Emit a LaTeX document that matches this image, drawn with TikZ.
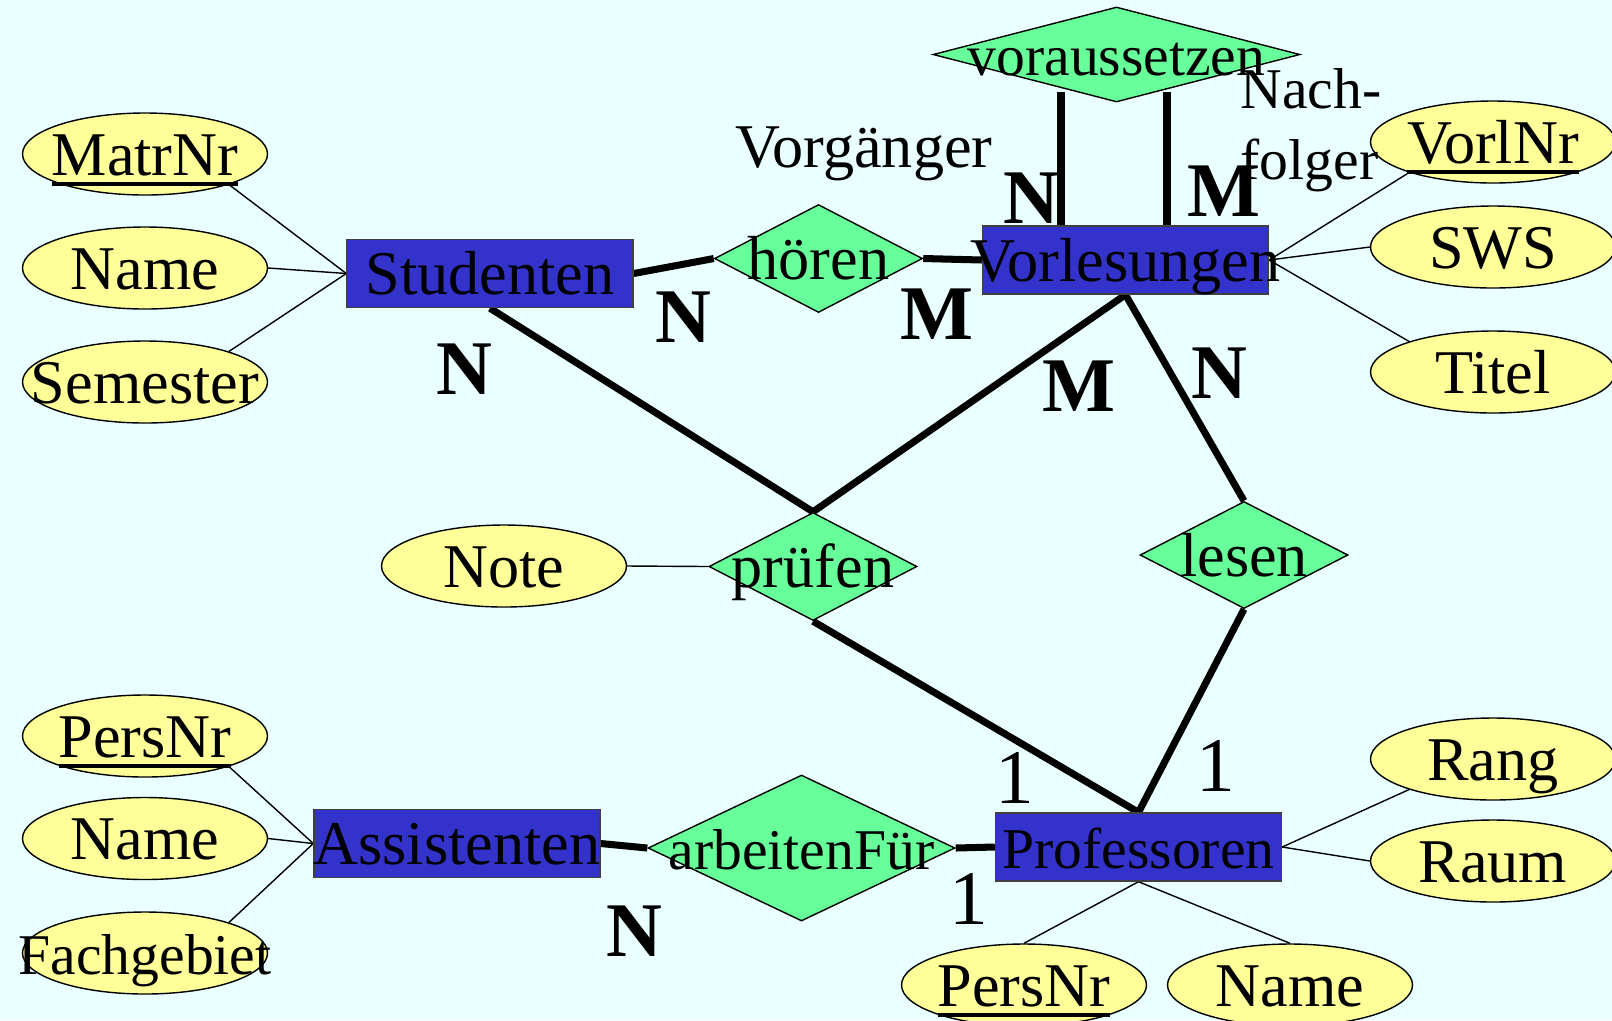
\documentclass[tikz,border=0pt]{standalone}
\usepackage{fontspec}
\setmainfont{Liberation Serif}
\usepackage{tikz}
\usetikzlibrary{shapes.geometric}

\definecolor{bgcyan}{RGB}{234,255,255}
\definecolor{entblue}{RGB}{51,51,204}
\definecolor{relgreen}{RGB}{102,255,153}
\definecolor{attyellow}{RGB}{255,255,153}

\pgfdeclarelayer{lines}
\pgfsetlayers{lines,main}

% underlined key attribute
\newcommand{\keyattr}[1]{\setbox0\hbox{#1}\rlap{\rule[-3pt]{\wd0}{1pt}}\box0}

\begin{document}
\begin{tikzpicture}[x=0.1mm, y=-0.1mm,
  bigfont/.style={font=\fontsize{17.7pt}{21pt}\selectfont},
  smallfont/.style={font=\fontsize{16.4pt}{20pt}\selectfont},
  overflow/.style={inner sep=0pt, text height=12pt, text depth=0pt,
    execute at begin node={\hbox to 0pt\bgroup\hss},
    execute at end node={\hss\egroup}},
  entity/.style={overflow, bigfont, rectangle, draw=black!75, fill=entblue,
    minimum width=28.6mm, minimum height=6.8mm},
  relation/.style={overflow, bigfont, diamond, draw=black, fill=relgreen,
    minimum width=20.8mm, minimum height=10.8mm},
  attribute/.style={overflow, bigfont, ellipse, draw=black, fill=attyellow,
    minimum width=24.5mm, minimum height=8.2mm},
  card/.style={inner sep=0pt, text height=15pt, text depth=0pt,
    font=\fontsize{22pt}{24pt}\selectfont\bfseries},
  one/.style={card, font=\fontsize{22pt}{24pt}\selectfont},
  role/.style={inner sep=0pt, text height=12pt, text depth=0pt, bigfont},
  conn/.style={line width=2pt},
  attr/.style={line width=0.4pt},
  ]
  \begin{pgfonlayer}{lines}
    \fill[bgcyan] (0,0) rectangle (1612,1020);
  \end{pgfonlayer}
  \useasboundingbox (0,0) rectangle (1612,1020);

  %entities
  \node at (490, 273.5) [entity] (studenten) {Studenten};
  \node at (1125.5, 260) [entity] (vorlesungen) {Vorlesungen};
  \node at (457, 843.5) [entity] (assistenten) {Assistenten};
  \node at (1138.5, 847) [entity, smallfont] (professoren) {Professoren};

  %relationships
  \node at (818.5, 258.5) [relation] (hoeren) {hören};
  \node at (1116.5, 54.5) [relation, smallfont, minimum width=36.7mm, minimum height=9.5mm] (voraussetzen) {voraussetzen};
  \node at (813, 566.5) [relation] (pruefen) {prüfen};
  \node at (1244, 555) [relation, minimum height=10.7mm] (lesen) {lesen};
  \node at (801.5, 848) [relation, smallfont, minimum width=30.7mm, minimum height=14.6mm] (arbeitenfuer) {arbeitenFür};

  %attributes
  \node at (145, 154) [attribute] (matrnr) {\keyattr{MatrNr}};
  \node at (145, 268) [attribute] (sname) {Name};
  \node at (145, 382) [attribute] (semester) {Semester};
  \node at (1493, 142) [attribute] (vorlnr) {\keyattr{VorlNr}};
  \node at (1493, 247) [attribute] (sws) {SWS};
  \node at (1493, 372) [attribute] (titel) {Titel};
  \node at (504, 566) [attribute] (note) {Note};
  \node at (145, 736) [attribute] (apersnr) {\keyattr{PersNr}};
  \node at (145, 838.5) [attribute] (aname) {Name};
  \node at (145, 953) [attribute, smallfont] (fachgebiet) {Fachgebiet};
  \node at (1493, 759) [attribute] (rang) {Rang};
  \node at (1493, 861) [attribute] (raum) {Raum};
  \node at (1024, 985) [attribute] (ppersnr) {\keyattr{PersNr}};
  \node at (1290, 985) [attribute] (pname) {Name};

  %roles
  \node at (864, 146) [role] (vorgaenger) {Vorgänger};
  \node at (1240, 68) [anchor=north west, inner sep=0pt, align=left, smallfont] (nachfolger) {Nach-\\folger};

  %cardinalities
  \node at (683.6, 316.6) [card] (n1) {N};
  \node at (936.5, 313.5) [card] (m1) {M};
  \node at (1031, 197.5) [card] (n2) {N};
  \node at (1224, 190) [card] (m2) {M};
  \node at (464.7, 368) [card] (n3) {N};
  \node at (1079, 385.5) [card] (m3) {M};
  \node at (1219, 372) [card] (n4) {N};
  \node at (1015, 777.5) [one] (e1) {1};
  \node at (1216, 765.5) [one] (e2) {1};
  \node at (969, 898.5) [one] (e3) {1};
  \node at (634, 930) [card] (n5) {N};

  \coordinate (vorg) at (1061, 92);
  \coordinate (nachf) at (1167, 92);

  %connections
  \begin{pgfonlayer}{lines}
    \draw[conn] (studenten.east) -- (hoeren.west);
    \draw[conn] (hoeren.east) -- (vorlesungen.west);
    \draw[conn] (vorg) -- (vorg |- vorlesungen.north);
    \draw[conn] (nachf) -- (nachf |- vorlesungen.north);
    \draw[conn] (studenten.south) -- (pruefen.north);
    \draw[conn] (vorlesungen.south) -- (pruefen.north);
    \draw[conn] (vorlesungen.south) -- (lesen.north);
    \draw[conn] (pruefen.south) -- (professoren.north);
    \draw[conn] (lesen.south) -- (professoren.north);
    \draw[conn] (assistenten.east) -- (arbeitenfuer.west);
    \draw[conn] (arbeitenfuer.east) -- (professoren.west);

    \draw[attr] (matrnr.-20) -- (studenten.west);
    \draw[attr] (sname.east) -- (studenten.west);
    \draw[attr] (semester.20) -- (studenten.west);
    \draw[attr] (vorlnr.200) -- (vorlesungen.east);
    \draw[attr] (sws.west) -- (vorlesungen.east);
    \draw[attr] (titel.160) -- (vorlesungen.east);
    \draw[attr] (note.east) -- (pruefen.west);
    \draw[attr] (apersnr.-20) -- (assistenten.west);
    \draw[attr] (aname.east) -- (assistenten.west);
    \draw[attr] (fachgebiet.20) -- (assistenten.west);
    \draw[attr] (rang.200) -- (professoren.east);
    \draw[attr] (raum.west) -- (professoren.east);
    \draw[attr] (ppersnr.north) -- (professoren.south);
    \draw[attr] (pname.north) -- (professoren.south);
  \end{pgfonlayer}
\end{tikzpicture}
\end{document}
